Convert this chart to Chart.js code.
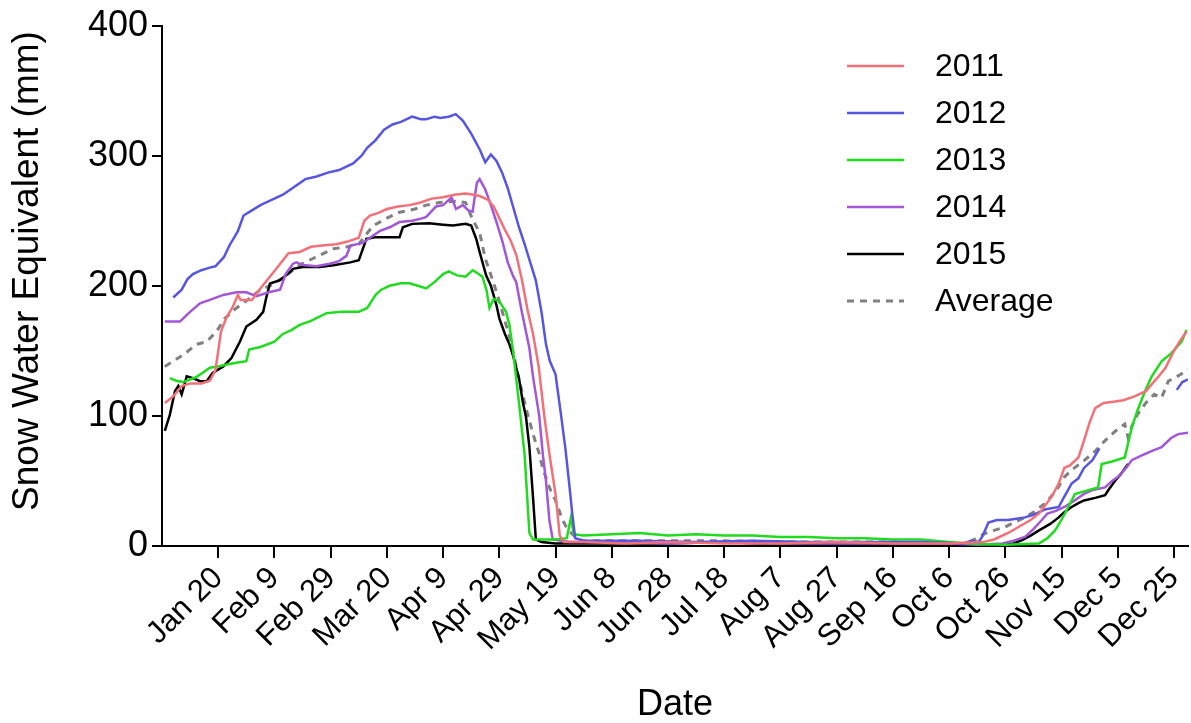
<!DOCTYPE html>
<html>
<head>
<meta charset="utf-8">
<script src="https://cdn.jsdelivr.net/npm/chart.js@4"></script>
<style>
  body { margin: 0; background: #fff; }
  canvas { display: block; }
</style>
</head>
<body>
<canvas id="sweChart" width="1191" height="723"></canvas>
<script>
// ---------------- Data (day of year -> SWE in mm) ----------------
const SERIES_NAMES = ["2011", "2012", "2013", "2014", "2015", "Average"];

const DAYS_2011 = [1,4,7,10,14,17,19,21,23,25,27,28,32,35,38,41,45,49,53,57,62,66,70,72,74,77,80,84,88,92,96,100,104,108,111,113,116,118,120,122,124,126,128,130,132,134,136,138,140,141.5,143,150,165,180,200,220,240,260,280,292,296,301,305,309,312,314.5,316.5,319,321,323,326,328,330,332,335,339,342,346,350,354,357,360,362,364.5];
const SWE_2011 = [110,115,123,125,125,127,135,165,176,183,193,189,189,198,206,214,225,226,230,231,232,234,237,250,254,256,259,261,262,264,267,268,270,271,270,269,266,261,252,243,235,224,205,182,163,138,100,68,40,8,3,3,2,3,2,2,3,2,2,3,5,10,15,20,25,32,38,48,60,62,68,81,95,106,110,111,112,115,119,129,137,150,157,165];

const DAYS_2012 = [4,7,9,11,14,17,19,22,24,27,29,32,35,39,43,47,51,55,59,63,68,71,73,76,79,82,85,89,92,94,97,99,102,104.5,107,110,113,115,117,119,121,123,125,127,129,131,133,135,136.6,138,140,142,143.5,145,146,147,150,170,190,210,230,250,270,285,288,290.5,292,294,297,301,304,307,310,314,319,321,323.6,326,328,331,333.5,347,361,363,365];
const SWE_2012 = [191,197,205,209,212,214,215,222,231,242,254,258,262,266,270,276,282,284,287,289,294,300,306,312,320,324,326,330,328,328,330,329,330,332,327,317,305,295,301,296,287,275,260,245,232,218,204,180,155,142,132,100,75,45,24,6,4,4,3,4,3,3,3,2,4,3,8,18,20,20,21,22,24,28,30,38,48,52,60,66,75,null,120,126,128];

const DAYS_2013 = [2.8,5,7.6,10,12.3,15,17,20,23,27,30,31,35,40,43,46,49,53,58.5,64,70,73,76,78,81,85,88,91,94,97,100,102,105,108,110.5,112,114,115.5,116.5,118,120,122.4,123.6,125,127,129,130.7,132,140,144,145.5,146.5,150,160,170,180,190,200,210,220,230,240,250,260,270,280,290,300,312,315,317.7,320,322.4,324.8,328,333,334.3,338,342.5,345,347,349.7,352,355.6,359,362.7,364.5];
const SWE_2013 = [129,127,126,128,130,134,137,138,139.5,141,142,151,153,157,163,166,170,173,179,180,180,183,193,197,200,202,202,200,198,203,209,211,208,207,212,210,207,196,183,190,188,180,170,148,110,70,10,5,5,6,22,9,8,9,10,8,9,8,8,7,7,6,6,5,5,3,1.5,1,2,6,12,20,30,40,42,45,63,65,68,91,104,119,130,142,148,157,166];

const DAYS_2014 = [1,6.4,8,10,13.5,18,21.8,26.5,30,33.6,38,42,44,46.6,47.8,50,55,59.7,63,65.6,67,71.5,74,77.4,81,84.5,89,92.8,94,97.5,100,103,104.6,107,109,110.5,112,113,115,117,119,121,123,125,126,128,130.7,132,134.2,135.5,136.6,137.8,139,145,160,180,200,220,240,260,280,290,299,303,307,310,313,315,318,321,324,328,331,335.5,338,340,343,345,348,352,355.6,359,361.5,365];
const SWE_2014 = [172.5,172.5,176,180,186.5,190,193,195,195,192,195,197,209,217,218,216,215,217,219,223,231,233,237,242,245,249,250,252,253,261,262,268,259,262,258,257,279,282,274,262,249,235,218,207,203,180,152,130,100,70,50,20,5,3,3,2,3,2,2,2,2,1,2,4,7,13,20,25,27,30,34,40,43,45,50,53,60,66,69,73,76,83,86,87];

const DAYS_2015 = [1,2.8,4.6,5.8,7,8.8,11,13.5,15.9,18,21.8,24.7,27.7,30,33.6,36,37,38.4,42,44.9,46.6,50,56,61,67,70,72.7,76,84.5,85.7,89,95,100,103.5,108,110,111.8,113,115.3,117,119,120,122,123.6,124.8,127,128.3,129.5,130.7,132,133,135,140,160,180,200,220,240,260,280,300,303,306,309,312,316,319,321,323.6,326,328,332,335.5,337,339,341,343.7];
const SWE_2015 = [88.5,101,119,123,116.6,130.5,129,126.7,126.7,133,138,144.5,157,168.7,173.8,180,190,201.8,204.4,209.4,213,214.5,214.5,215.8,218,219.6,236,237.4,237.4,245,247.6,248,247,246.3,247.6,246.3,236,226,208,200,185,175,163,155,147,129,111.5,99,76,37,5,3,2,2,2,3,1,1,1,1,1,2,4.6,8,12,17,22,26,30,33,35,37,39,44,50,55,63];

const DAYS_AVG = [1,4,7.6,12.3,15.9,19.4,22.4,26.5,31,35,38.4,43,49,53.7,61,66,70,75,80,84.5,90,94,98.7,104,108,110.5,113,115,118,120,122.4,124,127,129.5,132,134.2,135.4,137.8,140,142.5,144,146,148,150,170,200,230,260,280,285.7,289,292.8,296,300,303,307,310,314,318,321,324,328,332,335.5,339,342.5,343.7,345,347,350,353,355.6,358,361,365];
const SWE_AVG = [138,142,147,155,157,165,175,183,190,197,200,206,216,221,228.5,230,232,246,252,256.5,259,262,264,265,264,251,241,221,202,188,170,158,128,106,86,71,60,45,35,20,14,9,5,4,4,4,3,3,2,2,5,9.7,12,14.7,18,22,26,32.6,42,53,59,65.6,73,81,88,93.7,83.4,92,101,110,116.6,114,126.7,130,135.6];

const TICK_DAYS = [20,40,60,80,100,120,140,160,180,200,220,240,260,280,300,320,340,360];
const TICK_LABELS = ["Jan 20","Feb 9","Feb 29","Mar 20","Apr 9","Apr 29","May 19","Jun 8","Jun 28","Jul 18","Aug 7","Aug 27","Sep 16","Oct 6","Oct 26","Nov 15","Dec 5","Dec 25"];
const Y_TITLE = "Snow Water Equivalent (mm)";

// ---------------- Helpers ----------------
const FONT = "'Liberation Sans', Arial, sans-serif";

function toPoints(days, values) {
  return days.map((d, i) => ({ x: d, y: values[i] }));
}

function line(label, days, values, color, extra) {
  return Object.assign({
    label,
    data: toPoints(days, values),
    borderColor: color,
    backgroundColor: color,
    borderWidth: 2.5,
    pointRadius: 0,
    tension: 0,
    spanGaps: false,
    fill: false
  }, extra || {});
}

// Legend inside the plot (top right) + y title, placed like the original figure
const figureText = {
  id: "figureText",
  afterDraw(chart) {
    const ctx = chart.ctx;
    ctx.save();
    ctx.font = `32px ${FONT}`;
    ctx.textBaseline = "middle";
    ctx.textAlign = "left";
    chart.data.datasets.forEach((ds, i) => {
      const y = 66 + i * 47;
      ctx.strokeStyle = ds.borderColor;
      ctx.lineWidth = ds.borderWidth;
      ctx.setLineDash(ds.borderDash || []);
      ctx.beginPath();
      ctx.moveTo(847, y);
      ctx.lineTo(904, y);
      ctx.stroke();
      ctx.setLineDash([]);
      ctx.fillStyle = "#000";
      ctx.fillText(ds.label, 935, y + 1);
    });

    // y axis title
    ctx.translate(28, 271);
    ctx.rotate(-Math.PI / 2);
    ctx.textAlign = "center";
    ctx.font = `37px ${FONT}`;
    ctx.fillText(Y_TITLE, 0, 0);
    ctx.restore();
  }
};

// ---------------- Chart ----------------
new Chart(document.getElementById("sweChart"), {
  type: "line",
  data: {
    datasets: [
      line(SERIES_NAMES[0], DAYS_2011, SWE_2011, "#f27078"),
      line(SERIES_NAMES[1], DAYS_2012, SWE_2012, "#5656e0"),
      line(SERIES_NAMES[2], DAYS_2013, SWE_2013, "#1fdc1f"),
      line(SERIES_NAMES[3], DAYS_2014, SWE_2014, "#a157d6"),
      line(SERIES_NAMES[4], DAYS_2015, SWE_2015, "#000000"),
      line(SERIES_NAMES[5], DAYS_AVG, SWE_AVG, "#808080", { borderDash: [7, 6], borderWidth: 3 })
    ]
  },
  options: {
    responsive: false,
    animation: false,
    layout: { padding: { top: 22, right: 3, left: 0, bottom: 0 } },
    plugins: {
      legend: { display: false },
      tooltip: { enabled: false }
    },
    scales: {
      x: {
        type: "linear",
        min: 0,
        max: 365,
        afterBuildTicks: s => { s.ticks = TICK_DAYS.map(v => ({ value: v })); },
        afterFit: s => { s.height = 177; s.paddingLeft = 0; s.paddingRight = 0; },
        ticks: {
          autoSkip: false,
          minRotation: 45,
          maxRotation: 45,
          padding: 2,
          color: "#000",
          font: { family: FONT, size: 31 },
          callback: v => TICK_LABELS[TICK_DAYS.indexOf(v)]
        },
        grid: { drawOnChartArea: false, drawTicks: true, tickLength: 12, color: "#000", lineWidth: 2 },
        border: { display: true, color: "#000", width: 2 },
        title: { display: true, text: "Date", color: "#000", font: { family: FONT, size: 36, lineHeight: 1 }, padding: 0 }
      },
      y: {
        min: 0,
        max: 400,
        afterFit: s => { s.width = 162; },
        ticks: {
          stepSize: 100,
          padding: 4,
          color: "#000",
          font: { family: FONT, size: 36 }
        },
        grid: { drawOnChartArea: false, drawTicks: true, tickLength: 10, color: "#000", lineWidth: 2 },
        border: { display: true, color: "#000", width: 2 },
        title: { display: false }
      }
    }
  },
  plugins: [figureText]
});
</script>
</body>
</html>
